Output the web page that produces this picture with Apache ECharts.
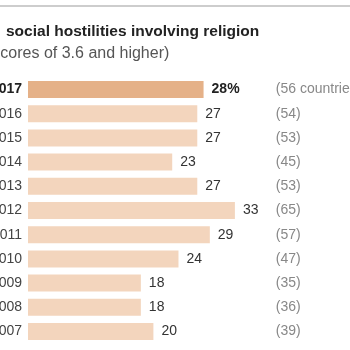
<!DOCTYPE html>
<html>
<head>
<meta charset="utf-8">
<script src="https://cdn.jsdelivr.net/npm/echarts@6/dist/echarts.min.js"></script>
<style>
  html, body { margin: 0; padding: 0; background: #fff; }
  #chart { width: 350px; height: 350px; }
</style>
</head>
<body>
<div id="chart"></div>
<script>
// years, top to bottom
var years = ['2017', '2016', '2015', '2014', '2013', '2012', '2011', '2010', '2009', '2008', '2007']
// share of countries (%)
var shares = [28, 27, 27, 23, 27, 33, 29, 24, 18, 18, 20]
// number of countries
var counts = ['(56 countries)', '(54)', '(53)', '(45)', '(53)', '(65)', '(57)', '(47)', '(35)', '(36)', '(39)']

var font = 'Liberation Sans, Arial, sans-serif'
var chart = echarts.init(document.getElementById('chart'))

chart.setOption({
  backgroundColor: '#fff',
  animation: false,
  graphic: [
    {
      type: 'line',
      shape: { x1: 0, y1: 6, x2: 350, y2: 6 },
      style: { stroke: '#bcbcbc', lineWidth: 1.5 }
    },
    {
      type: 'text',
      left: 6,
      top: 24,
      style: { text: 'social hostilities involving religion', font: 'bold 15.5px ' + font, fill: '#222' }
    },
    {
      type: 'text',
      left: -13,
      top: 46,
      style: { text: '(scores of 3.6 and higher)', font: '16px ' + font, fill: '#555' }
    }
  ],
  grid: { left: 28, right: 71.2, top: 77.4, bottom: 6.4, containLabel: false, outerBoundsMode: 'none' },
  xAxis: {
    type: 'value',
    min: 0,
    max: 40,
    show: false
  },
  yAxis: [
    {
      type: 'category',
      inverse: true,
      data: years,
      axisLine: { show: false },
      axisTick: { show: false },
      axisLabel: {
        margin: 6,
        fontFamily: font,
        fontSize: 14,
        color: '#444',
        formatter: function (v) {
          return v === '2017' ? '{b|' + v + '}' : v
        },
        rich: { b: { fontFamily: font, fontSize: 14, fontWeight: 'bold', color: '#222' } }
      }
    },
    {
      type: 'category',
      inverse: true,
      position: 'right',
      data: counts,
      axisLine: { show: false },
      axisTick: { show: false },
      axisLabel: { margin: -3, fontFamily: font, fontSize: 14, color: '#888' }
    }
  ],
  series: [{
    type: 'bar',
    barWidth: 17,
    data: shares.map(function (v, i) {
      return {
        value: v,
        itemStyle: { color: i === 0 ? '#e5b188' : '#f3d5bd' },
        label: i === 0 ? { formatter: '{c}%', fontWeight: 'bold', color: '#222' } : {}
      }
    }),
    label: {
      show: true,
      position: 'right',
      distance: 8,
      fontFamily: font,
      fontSize: 14,
      color: '#333'
    }
  }]
})
</script>
</body>
</html>
